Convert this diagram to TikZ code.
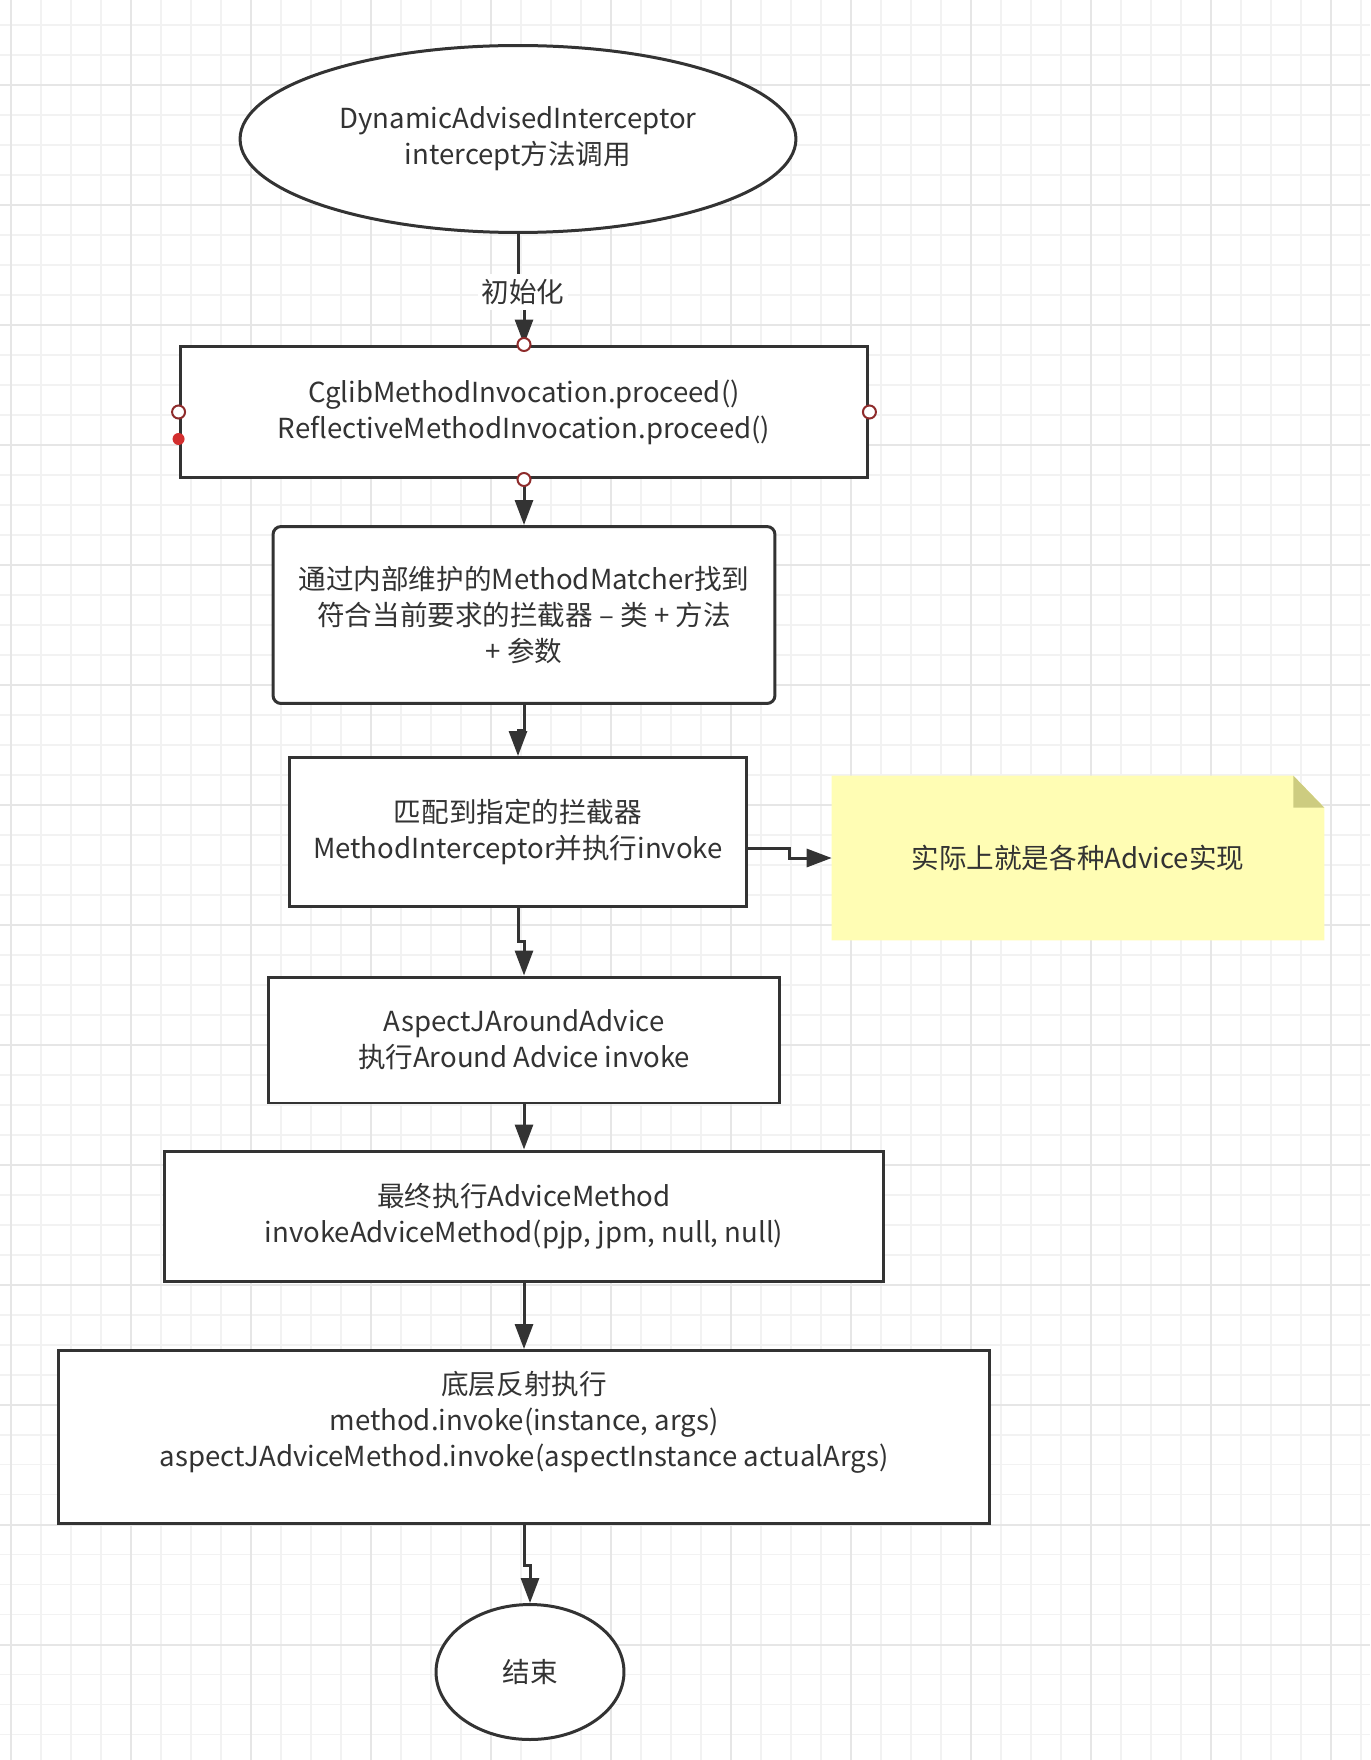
\documentclass[tikz,border=0pt]{standalone}
\usepackage{fontspec}
\setmainfont{Noto Sans CJK SC}
\usetikzlibrary{shapes.geometric,arrows.meta}

\definecolor{ink}{HTML}{333333}
\definecolor{minorgrid}{HTML}{F2F2F2}
\definecolor{majorgrid}{HTML}{E6E6E6}
\definecolor{notefill}{HTML}{FFFDB4}
\definecolor{notefold}{HTML}{CDCC80}
\definecolor{portred}{HTML}{8E2B2B}
\definecolor{dotred}{HTML}{D32F2F}

\pgfdeclarelayer{background}
\pgfsetlayers{background,main}

\tikzset{
  proc/.style={draw=ink, line width=0.06cm, fill=white, align=center, inner sep=0pt, text=ink},
  term/.style={proc, ellipse},
  flow/.style={draw=ink, line width=0.06cm, -{Triangle[length=0.5cm,width=0.36cm]}},
  lbl/.style={fill=white, text=ink, inner xsep=2pt, inner ysep=3pt},
  notebox/.style={align=center, inner sep=0pt, text=ink},
  portmark/.style={fill=white, draw=portred, line width=0.04cm},
}

\begin{document}
\begin{tikzpicture}[x=0.02cm, y=-0.02cm, font=\fontsize{15.7pt}{20.5pt}\selectfont]
  \useasboundingbox (0,0) rectangle (1370,1760);

  % grid paper
  \begin{pgfonlayer}{background}
    \fill[white] (0,0) rectangle (1370,1760);
    \draw[minorgrid, line width=0.03cm, shift={(11,25)}] (-11,-25) grid[step=0.6cm] (1359,1735);
    \draw[majorgrid, line width=0.04cm, shift={(11,85)}] (-11,-85) grid[step=2.4cm] (1359,1675);
  \end{pgfonlayer}

  % steps
  \node[term, minimum width=11.12cm, minimum height=3.74cm] (start) at (518,139)
    {DynamicAdvisedInterceptor\\intercept方法调用};
  \node[proc, minimum width=13.76cm, minimum height=2.64cm] (cgl) at (524,412)
    {CglibMethodInvocation.proceed()\\ReflectiveMethodInvocation.proceed()};
  \node[proc, rounded corners=0.16cm, minimum width=10.04cm, minimum height=3.54cm] (match) at (524,615)
    {通过内部维护的MethodMatcher找到\\符合当前要求的拦截器 – 类 + 方法\\+ 参数};
  \node[proc, minimum width=9.14cm, minimum height=2.98cm] (intc) at (518,832)
    {匹配到指定的拦截器\\MethodInterceptor并执行invoke};
  \node[notebox, minimum width=9.84cm, minimum height=3.28cm] (note) at (1078,858)
    {实际上就是各种Advice实现};
  \node[proc, minimum width=10.24cm, minimum height=2.52cm] (aj) at (524,1040)
    {AspectJAroundAdvice\\执行Around Advice invoke};
  \node[proc, minimum width=14.4cm, minimum height=2.6cm] (fin) at (524,1216)
    {最终执行AdviceMethod\\invokeAdviceMethod(pjp, jpm, null, null)};
  \node[proc, minimum width=18.64cm, minimum height=3.46cm] (refl) at (524,1437) {};
  \node[notebox] (refltxt) at (524,1422)
    {底层反射执行\\method.invoke(instance, args)\\aspectJAdviceMethod.invoke(aspectInstance actualArgs)};
  \node[term, minimum width=3.76cm, minimum height=2.7cm] (end) at (530,1672) {结束};

  % sticky note
  \begin{pgfonlayer}{background}
    \fill[notefill] (note.north west) -- ([xshift=-0.62cm]note.north east)
      -- ([yshift=-0.64cm]note.north east) -- (note.south east) -- (note.south west) -- cycle;
    \fill[notefold] ([xshift=-0.62cm]note.north east) -- ([xshift=-0.62cm,yshift=-0.64cm]note.north east)
      -- ([yshift=-0.64cm]note.north east) -- cycle;
  \end{pgfonlayer}

  % connectors
  \draw[flow] (start.south) -- ++(0,58) node[lbl, xshift=0.1cm] {初始化} -| (cgl.north);
  \draw[flow] (cgl.south) -- (match.north);
  \draw[flow] (match.south) -- ++(0,26) -| (intc.north);
  \draw[flow] ([yshift=-0.32cm]intc.east) -- ++(42,0) |- (note.west);
  \draw[flow] (intc.south) -- ++(0,34) -| (aj.north);
  \draw[flow] (aj.south) -- (fin.north);
  \draw[flow] (fin.south) -- (refl.north);
  \draw[flow] (refl.south) -- ++(0,40) -| (end.north);

  % connection points
  \filldraw[portmark] (cgl.north) circle (0.13cm);
  \filldraw[portmark] (cgl.south) circle (0.13cm);
  \filldraw[portmark] (cgl.west) circle (0.13cm);
  \filldraw[portmark] (cgl.east) circle (0.13cm);
  \fill[dotred] ([yshift=-0.54cm]cgl.west) circle (0.12cm);
\end{tikzpicture}
\end{document}
